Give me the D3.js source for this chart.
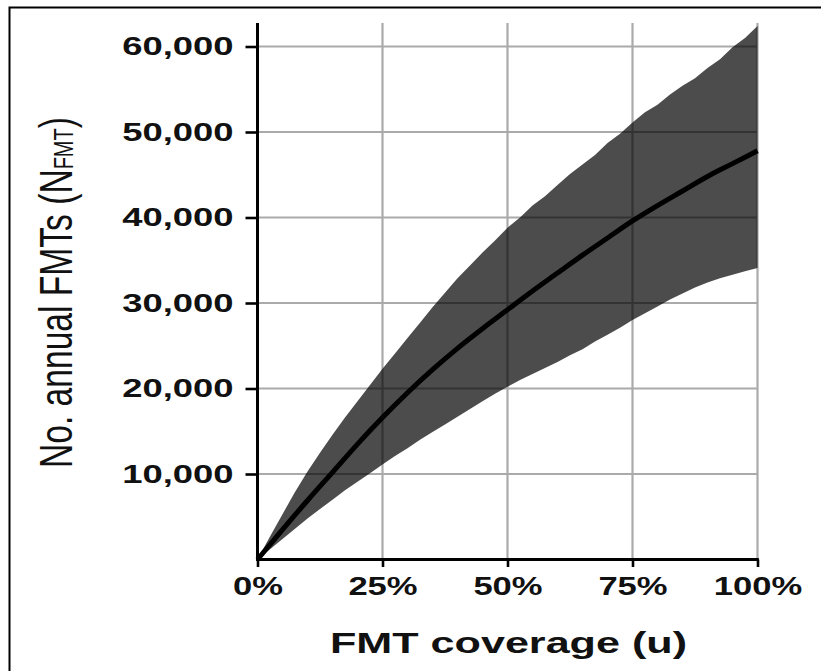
<!DOCTYPE html>
<html><head><meta charset="utf-8">
<script src="https://cdn.jsdelivr.net/npm/d3@7"></script>
<style>body{margin:0;background:#fff}svg{display:block}</style>
</head><body>
<svg id="c" width="821" height="671"></svg>
<script>
// ---- data ----
const bandCoverage = [0,0.025,0.05,0.075,0.1,0.125,0.15,0.175,0.2,0.225,0.25,0.275,0.3,0.325,0.35,0.375,0.4,0.425,0.45,0.475,0.5,0.525,0.55,0.575,0.6,0.625,0.65,0.675,0.7,0.725,0.75,0.775,0.8,0.825,0.85,0.875,0.9,0.925,0.95,0.975,1];
const upperValues = [0,2700,5300,7900,10300,12500,14600,16600,18500,20400,22300,24100,25900,27700,29500,31200,32900,34400,35900,37300,38800,40000,41400,42500,43800,45100,46200,47300,48700,49800,51100,52300,53200,54400,55400,56300,57500,58500,59900,61000,62400];
const lowerValues = [0,1200,2400,3600,4800,5900,7000,8100,9100,10100,11100,12100,13000,14000,14900,15800,16700,17600,18500,19400,20200,21000,21700,22400,23100,23900,24600,25500,26300,27100,28000,28800,29600,30400,31100,31800,32400,32900,33300,33700,34100];
const meanCoverage = [0,0.05,0.1,0.15,0.2,0.25,0.3,0.35,0.4,0.45,0.5,0.55,0.6,0.65,0.7,0.75,0.8,0.85,0.9,0.95,1];
const meanValues = [0,3500,6900,10200,13500,16600,19500,22200,24700,27000,29200,31400,33500,35600,37600,39600,41400,43100,44800,46300,47800];
const xTickValues = [0,0.25,0.5,0.75,1];
const yTickValues = [10000,20000,30000,40000,50000,60000];
const xTitle = "FMT coverage (u)";
const yTitleMain = "No. annual FMTs (N";
const yTitleSub = "FMT";
const yTitleEnd = ")";

// ---- layout ----
const svg = d3.select("#c");
const x = d3.scaleLinear().domain([0,1]).range([257.5,757.5]);
const y = d3.scaleLinear().domain([0,60000]).range([559.5,46.5]);
const yTop = 62740;
const FONT = "'Liberation Sans', Arial, Helvetica, sans-serif";

svg.append("rect").attr("width",821).attr("height",671).attr("fill","#fff");

// border (top & left)
svg.append("path").attr("d","M9.5,671V7.5H821").attr("fill","none").attr("stroke","#000").attr("stroke-width",2);

// grid
const grid = svg.append("g").attr("stroke","#aaaaaa").attr("stroke-width",2.2);
grid.selectAll("line.v").data(xTickValues.filter(d=>d>0)).join("line")
  .attr("x1",d=>x(d)).attr("x2",d=>x(d)).attr("y1",y(yTop)).attr("y2",y(0));
grid.selectAll("line.h").data(yTickValues).join("line")
  .attr("x1",x(0)).attr("x2",x(1)).attr("y1",d=>y(d)).attr("y2",d=>y(d));

// band
const bandData = bandCoverage.map((c,i)=>({c, lo:lowerValues[i], hi:upperValues[i]}));
svg.append("path").datum(bandData)
  .attr("d", d3.area().x(d=>x(d.c)).y0(d=>y(d.lo)).y1(d=>y(d.hi)))
  .attr("fill","#000").attr("fill-opacity",0.7);

// mean line
const meanData = meanCoverage.map((c,i)=>({c, v:meanValues[i]}));
svg.append("path").datum(meanData)
  .attr("d", d3.line().x(d=>x(d.c)).y(d=>y(d.v)).curve(d3.curveMonotoneX))
  .attr("fill","none").attr("stroke","#000").attr("stroke-width",5);

// axes
const yAxis = svg.append("g").attr("transform",`translate(${x(0)},0)`)
  .call(d3.axisLeft(y).tickValues(yTickValues).tickSize(12).tickPadding(12).tickFormat(d3.format(",")));
const xAxis = svg.append("g").attr("transform",`translate(0,${y(0)})`)
  .call(d3.axisBottom(x).tickValues(xTickValues).tickSize(7.5).tickPadding(10).tickFormat(d3.format(".0%")));
[yAxis,xAxis].forEach(a=>{
  a.select(".domain").remove();
  a.selectAll(".tick line").attr("stroke","#000").attr("stroke-width",2.6);
  a.selectAll(".tick text").attr("fill","#111").style("font-family",FONT).style("font-weight","bold").style("font-size","26px");
});
svg.append("line").attr("x1",x(0)).attr("x2",x(0)).attr("y1",y(yTop)).attr("y2",y(0)+1.5)
  .attr("stroke","#000").attr("stroke-width",3);
svg.append("line").attr("x1",x(0)-1.5).attr("x2",x(1)+1.3).attr("y1",y(0)).attr("y2",y(0))
  .attr("stroke","#000").attr("stroke-width",3);

// horizontal stretch of tick labels (reference is widened)
yAxis.selectAll(".tick text").each(function(){ const l=this.getComputedTextLength(); d3.select(this).attr("textLength",l*1.4).attr("lengthAdjust","spacingAndGlyphs"); });
xAxis.selectAll(".tick text").each(function(){ const l=this.getComputedTextLength(); d3.select(this).attr("textLength",l*1.33).attr("lengthAdjust","spacingAndGlyphs"); });

// x title
const xt = svg.append("text").attr("x",(x(0)+x(1))/2+1).attr("y",653).attr("text-anchor","middle")
  .style("font-family",FONT).style("font-weight","bold").style("font-size","30px").attr("fill","#111").text(xTitle);
xt.attr("textLength",357).attr("lengthAdjust","spacingAndGlyphs");

// y title (rotated, widened)
const yt = svg.append("text").attr("transform","translate(72,468) scale(1.37,1) rotate(-90)")
  .style("font-family",FONT).style("font-size","33.6px").attr("fill","#111");
yt.append("tspan").text(yTitleMain);
yt.append("tspan").style("font-size","20px").attr("dy",1).text(yTitleSub);
yt.append("tspan").attr("dy",-1).text(yTitleEnd);
</script>
</body></html>
